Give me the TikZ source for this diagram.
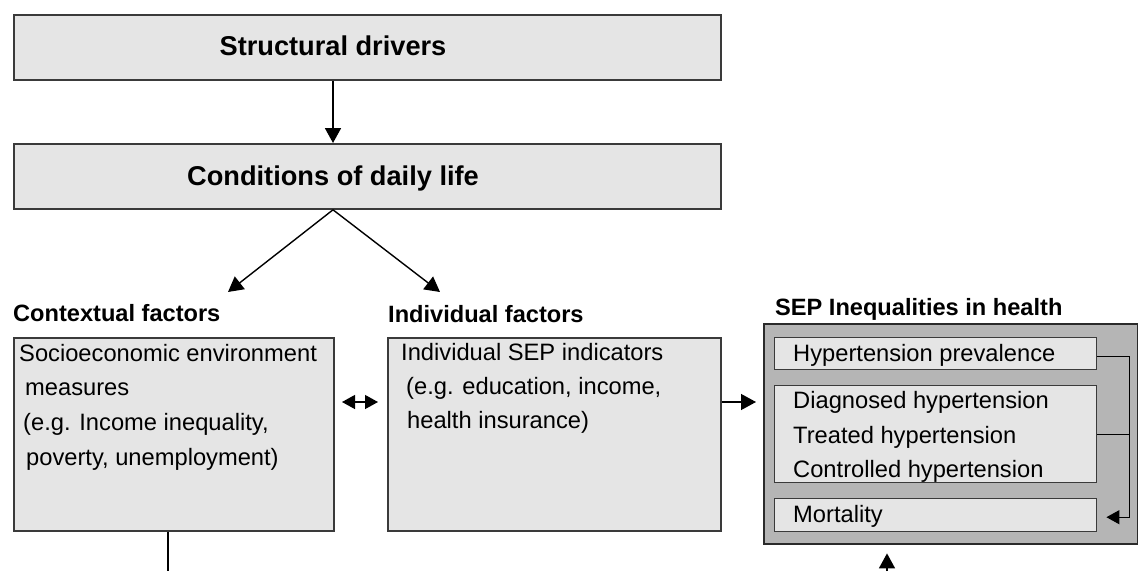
\documentclass[tikz,border=0pt]{standalone}
\usepackage{fontspec}
\setmainfont{Liberation Sans}
\usetikzlibrary{arrows.meta}
\definecolor{boxfill}{HTML}{E5E5E5}
\definecolor{boxline}{HTML}{3A3A3A}
\definecolor{groupfill}{HTML}{B5B5B5}
\definecolor{groupline}{HTML}{2A2A2A}
\tikzset{
  panel/.style={draw=boxline, fill=boxfill, line width=1.8pt, inner sep=0pt, anchor=north west},
  grouppanel/.style={draw=groupline, fill=groupfill, line width=2.4pt, inner sep=0pt, anchor=north west},
  subpanel/.style={draw=boxline, fill=boxfill, line width=1.4pt, inner sep=0pt, anchor=north west},
  titletext/.style={font=\fontsize{27.2}{32}\selectfont\bfseries, inner sep=0pt, anchor=base},
  headtext/.style={font=\fontsize{23.6}{28}\selectfont\bfseries, inner sep=0pt, anchor=base west},
  bodytext/.style={font=\fontsize{23.7}{28}\selectfont, inner sep=0pt, anchor=base west},
  link/.style={draw=black, line width=1.5pt},
  tip/.tip={Triangle[length=15pt,width=16pt]},
  smalltip/.tip={Triangle[length=13pt,width=14pt]},
  arr/.style={link, -tip},
  arrboth/.style={link, smalltip-smalltip},
  thinarr/.style={draw=black, line width=1.2pt, -smalltip},
}
\begin{document}
\begin{tikzpicture}[x=1pt,y=-1pt]
\useasboundingbox (0,0) rectangle (1138,571);

% top boxes
\node[panel, minimum width=707pt, minimum height=65pt] (sd) at (13,14) {};
\node[titletext] (sdt) at (333,55) {Structural drivers};
\node[panel, minimum width=707pt, minimum height=65pt] (cd) at (13,143) {};
\node[titletext] (cdt) at (333,185) {Conditions of daily life};

% factor headings
\node[headtext] (ctxh) at (13,321) {Contextual factors};
\node[headtext] (indh) at (388,322) {Individual factors};
\node[headtext] (seph) at (775,315) {SEP Inequalities in health};

% contextual factors box
\node[panel, minimum width=320pt, minimum height=193pt] (ctx) at (13,337) {};
\node[bodytext] (ctx1) at (19,361) {Socioeconomic environment};
\node[bodytext] (ctx2) at (25,395) {measures};
\node[bodytext] (ctx3) at (23,430) {(e.g. Income inequality,};
\node[bodytext] (ctx4) at (26,465) {poverty, unemployment)};

% individual factors box
\node[panel, minimum width=333pt, minimum height=193pt] (ind) at (387,337) {};
\node[bodytext] (ind1) at (401,360) {Individual SEP indicators};
\node[bodytext] (ind2) at (406,394) {(e.g. education, income,};
\node[bodytext] (ind3) at (407,428) {health insurance)};

% health inequalities group
\node[grouppanel, minimum width=374pt, minimum height=220pt] (sep) at (763,323) {};
\node[subpanel, minimum width=322pt, minimum height=32pt] (hp) at (774,337) {};
\node[bodytext] (hpt) at (793,361) {Hypertension prevalence};
\node[subpanel, minimum width=322pt, minimum height=97pt] (dx) at (774,385) {};
\node[bodytext] (dx1) at (793,408) {Diagnosed hypertension};
\node[bodytext] (dx2) at (793,443) {Treated hypertension};
\node[bodytext] (dx3) at (793,477) {Controlled hypertension};
\node[subpanel, minimum width=322pt, minimum height=33pt] (mort) at (774,498) {};
\node[bodytext] (mortt) at (793,522) {Mortality};

% connector end points
\coordinate (ctxin) at (228,292);
\coordinate (indin) at (440,292);
\coordinate (dl) at (342,402);
\coordinate (dr) at (378,402);
\coordinate (ctxout) at (168,571);
\coordinate (sepin) at (887,571);

% connectors
\draw[arr, line width=1.8pt] (sdt |- sd.south) -- (cdt |- cd.north);
\draw[arr, line width=1.4pt] (cdt |- cd.south) -- (ctxin);
\draw[arr, line width=1.4pt] (cdt |- cd.south) -- (indin);
\draw[arrboth, line width=1.3pt] (dl) -- (dr);
\draw[arr, line width=1.3pt, shorten >=7pt] (ind.east |- dl) -- (sep.west |- dl);
\draw[link, line width=1.3pt] (ctxout |- ctx.south) -- (ctxout);
\draw[arr, line width=1.5pt, shorten >=8pt] (sepin) -- (sepin |- sep.south);

% links inside the group
\draw[thinarr] ([yshift=-3pt]hp.east) -- ++(32,0) coordinate (rail)
  |- ([xshift=9pt,yshift=-2pt]mort.east);
\draw[draw=black, line width=1.2pt] (dx.east) -- (dx.east -| rail);
\end{tikzpicture}
\end{document}
